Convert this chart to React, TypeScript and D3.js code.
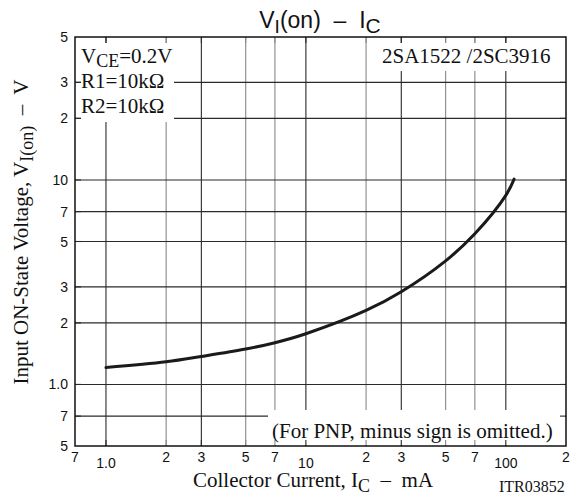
import React from "react";
import * as d3 from "d3";

const X_TICKS = [0.7, 1, 2, 3, 5, 7, 10, 20, 30, 50, 70, 100, 200];
const X_LABELS = ["7", "1.0", "2", "3", "5", "7", "10", "2", "3", "5", "7", "100", "2"];
const X_DECADES = [1, 10, 100];
const Y_TICKS = [50, 30, 20, 10, 7, 5, 3, 2, 1, 0.7, 0.5];
const Y_LABELS = ["5", "3", "2", "10", "7", "5", "3", "2", "1.0", "7", "5"];
const IC = [1, 2, 3, 5, 7, 10, 20, 30, 50, 70, 100, 110];
const VI = [1.21, 1.29, 1.37, 1.49, 1.6, 1.77, 2.3, 2.84, 4.02, 5.45, 8.4, 10.1];

const W = 579, H = 499;
const L = 75, R = 566, T = 37, B = 446;

export default function App() {
  const x = d3.scaleLog().domain([0.7, 200]).range([L, R]);
  const y = d3.scaleLog().domain([0.5, 50]).range([B, T]);
  const pts: [number, number][] = IC.map((c, i) => [x(c), y(VI[i])]);
  const line = d3.line().curve(d3.curveCatmullRom.alpha(0.5))(pts) || "";
  const inner = (v: number, arr: number[]) => v !== arr[0] && v !== arr[arr.length - 1];
  const lead = (v: number) => Math.round(v / Math.pow(10, Math.floor(Math.log10(v) + 1e-9)));
  const light = (v: number) => [2, 5, 7].includes(lead(v));
  const serif = "'Liberation Serif', 'Times New Roman', serif";
  const sans = "'Liberation Sans', Arial, sans-serif";
  const tk = 6;
  return (
    <svg width={W} height={H} style={{ position: "absolute", left: 0, top: 0, background: "#fff" }}>
      <rect x={0} y={0} width={W} height={H} fill="#fff" />
      {/* grid */}
      {X_TICKS.filter((v) => inner(v, X_TICKS)).map((v) => (
        <line key={"gx" + v} x1={x(v)} x2={x(v)} y1={T} y2={B} stroke={light(v) ? "#888" : "#2a2a2a"} strokeWidth={1.1} />
      ))}
      {Y_TICKS.filter((v) => inner(v, Y_TICKS)).map((v) => (
        <line key={"gy" + v} x1={L} x2={R} y1={y(v)} y2={y(v)} stroke="#2a2a2a" strokeWidth={1.1} />
      ))}
      {/* masks */}
      <rect x={81} y={43} width={93} height={79} fill="#fff" />
      <rect x={378} y={43} width={183} height={28} fill="#fff" />
      <rect x={268} y={410} width={297} height={35} fill="#fff" />
      {/* ticks */}
      {X_TICKS.filter((v) => inner(v, X_TICKS)).map((v) => (
        <g key={"tx" + v} stroke={light(v) ? "#888" : "#2a2a2a"} strokeWidth={1.1}>
          <line x1={x(v)} x2={x(v)} y1={T} y2={T + tk} />
          <line x1={x(v)} x2={x(v)} y1={B} y2={B - tk} />
        </g>
      ))}
      {Y_TICKS.filter((v) => inner(v, Y_TICKS)).map((v) => (
        <g key={"ty" + v} stroke="#2a2a2a" strokeWidth={1.1}>
          <line x1={L} x2={L + tk} y1={y(v)} y2={y(v)} />
          <line x1={R} x2={R - tk} y1={y(v)} y2={y(v)} />
        </g>
      ))}
      <rect x={L} y={T} width={R - L} height={B - T} fill="none" stroke="#111" strokeWidth={1.5} />
      {/* curve */}
      <path d={line} fill="none" stroke="#1a1a1a" strokeWidth={3} strokeLinecap="round" />
      {/* tick labels */}
      {X_TICKS.map((v, i) => (
        <text key={"lx" + v} x={x(v)} y={X_DECADES.includes(v) ? 468 : 462} textAnchor="middle" fontFamily={sans} fontSize={14} fill="#111">
          {X_LABELS[i]}
        </text>
      ))}
      {Y_TICKS.map((v, i) => (
        <text key={"ly" + v} x={68} y={y(v) + 5} textAnchor="end" fontFamily={sans} fontSize={14} fill="#111">
          {Y_LABELS[i]}
        </text>
      ))}
      {/* title */}
      <text x={320} y={28} textAnchor="middle" fontFamily={sans} fontSize={23} fill="#111" style={{ whiteSpace: "pre" }}>
        V<tspan fontSize={19} dy={5}>I</tspan>
        <tspan dy={-5}>{"(on)  –  I"}</tspan>
        <tspan fontSize={21} dy={5}>C</tspan>
      </text>
      {/* annotations */}
      <text x={81} y={63} fontFamily={serif} fontSize={21} fill="#111">
        V<tspan fontSize={18} dy={4}>CE</tspan>
        <tspan dy={-4}>=0.2V</tspan>
      </text>
      <text x={81} y={88} fontFamily={serif} fontSize={21} fill="#111">R1=10kΩ</text>
      <text x={81} y={113} fontFamily={serif} fontSize={21} fill="#111">R2=10kΩ</text>
      <text x={382} y={63} fontFamily={serif} fontSize={21} fill="#111">2SA1522 /2SC3916</text>
      <text x={272} y={438} fontFamily={serif} fontSize={21} fill="#111">(For PNP, minus sign is omitted.)</text>
      <text x={499} y={491.5} fontFamily={serif} fontSize={16} fill="#111">ITR03852</text>
      {/* axis labels */}
      <text x={193} y={487} fontFamily={serif} fontSize={21} fill="#111" style={{ whiteSpace: "pre" }}>
        Collector Current, I<tspan fontSize={18} dy={5}>C</tspan>
        <tspan dy={-5}>{"  –  mA"}</tspan>
      </text>
      <text transform="translate(28,232) rotate(-90)" textAnchor="middle" fontFamily={serif} fontSize={21} fill="#111" style={{ whiteSpace: "pre" }}>
        Input ON-State Voltage, V<tspan fontSize={18} dy={5}>I(on)</tspan>
        <tspan dy={-5}>{"  –  V"}</tspan>
      </text>
    </svg>
  );
}
